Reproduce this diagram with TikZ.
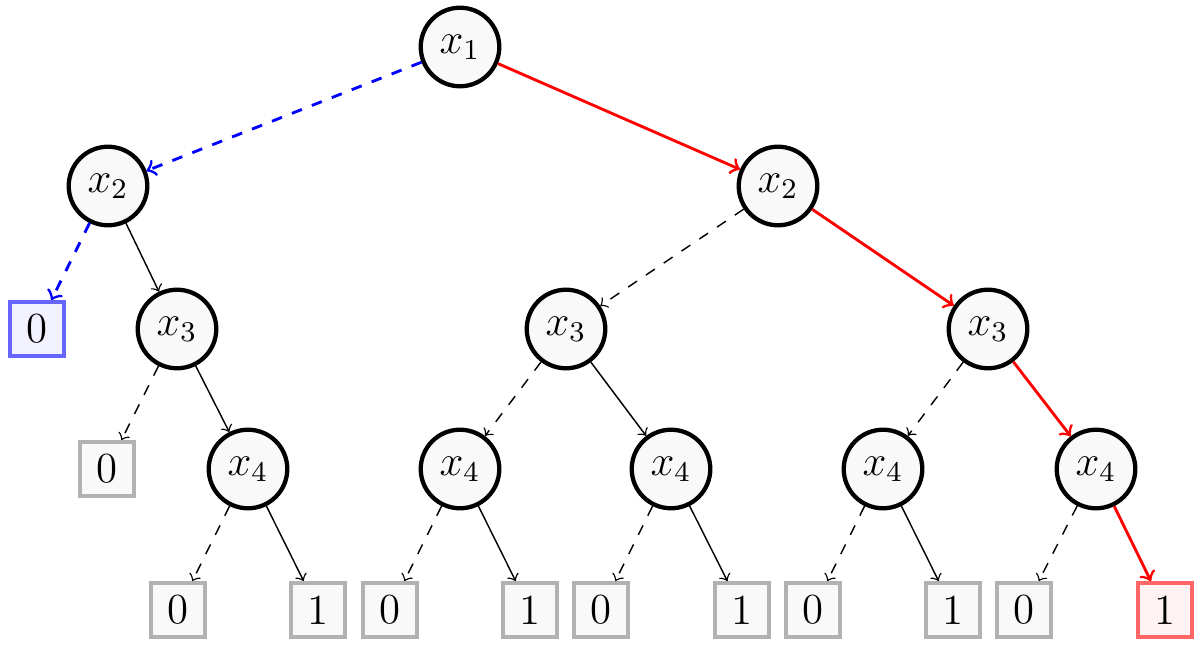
\documentclass[tikz,border=0pt]{standalone}
\begin{document}
\begin{tikzpicture}[x=0.28pt,y=-0.28pt,
  var/.style={circle,draw=black,line width=1.2pt,fill=gray!5,minimum size=22pt,inner sep=0pt,font=\large},
  leaf/.style={rectangle,draw=gray!60,line width=1.2pt,fill=gray!5,minimum size=15pt,inner sep=0pt,font=\large},
  leafblue/.style={leaf,draw=blue!60,fill=blue!5},
  leafred/.style={leaf,draw=red!60,fill=red!5},
  lo/.style={->,dashed},
  hi/.style={->},
  bluepath/.style={->,dashed,blue,thick},
  redpath/.style={->,red,thick}]
\useasboundingbox (0,0) rectangle (1201,647);
\node[var] (a) at (460,47) {$x_1$};
\node[var] (b1) at (108,186) {$x_2$};
\node[var] (b2) at (778,186) {$x_2$};
\node[leafblue] (z0) at (37,329) {0};
\node[var] (c1) at (177,329) {$x_3$};
\node[var] (c2) at (566,329) {$x_3$};
\node[var] (c3) at (988,329) {$x_3$};
\node[leaf] (z1) at (107,469) {0};
\node[var] (d1) at (248,469) {$x_4$};
\node[var] (d2) at (460,469) {$x_4$};
\node[var] (d3) at (671,469) {$x_4$};
\node[var] (d4) at (883,469) {$x_4$};
\node[var] (d5) at (1096,469) {$x_4$};
\node[leaf] (e1) at (178,610) {0};
\node[leaf] (f1) at (318,610) {1};
\node[leaf] (e2) at (390,610) {0};
\node[leaf] (f2) at (530,610) {1};
\node[leaf] (e3) at (601,610) {0};
\node[leaf] (f3) at (742,610) {1};
\node[leaf] (e4) at (813,610) {0};
\node[leaf] (f4) at (953,610) {1};
\node[leaf] (e5) at (1024,610) {0};
\node[leafred] (f5) at (1165,610) {1};
\draw[bluepath] (a) -- (b1);
\draw[redpath] (a) -- (b2);
\draw[bluepath] (b1) -- (z0);
\draw[hi] (b1) -- (c1);
\draw[lo] (b2) -- (c2);
\draw[redpath] (b2) -- (c3);
\draw[lo] (c1) -- (z1);
\draw[hi] (c1) -- (d1);
\draw[lo] (c2) -- (d2);
\draw[hi] (c2) -- (d3);
\draw[lo] (c3) -- (d4);
\draw[redpath] (c3) -- (d5);
\draw[lo] (d1) -- (e1);
\draw[hi] (d1) -- (f1);
\draw[lo] (d2) -- (e2);
\draw[hi] (d2) -- (f2);
\draw[lo] (d3) -- (e3);
\draw[hi] (d3) -- (f3);
\draw[lo] (d4) -- (e4);
\draw[hi] (d4) -- (f4);
\draw[lo] (d5) -- (e5);
\draw[redpath] (d5) -- (f5);
\end{tikzpicture}
\end{document}
